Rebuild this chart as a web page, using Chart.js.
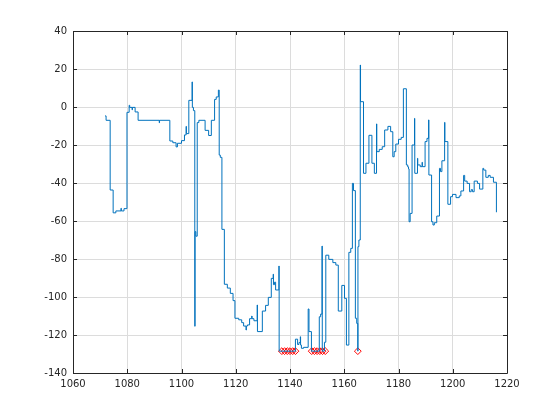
<!DOCTYPE html>
<html>
<head>
<meta charset="utf-8">
<script src="https://cdn.jsdelivr.net/npm/chart.js@4.4.1/dist/chart.umd.min.js"></script>
<style>
  html, body { margin: 0; padding: 0; background: #fff; }
  #plot { display: block; }
</style>
</head>
<body>
<canvas id="plot" width="560" height="420"></canvas>
<script>
// stairs signal, x positions and held values
const xs = [
  1071.8, 1072.2, 1073.7, 1074.8, 1075.8, 1077.7, 1077.8, 1078.8, 1079.9, 1080.7,
  1080.9, 1081.8, 1081.9, 1082.9, 1084.0, 1091.8, 1091.9, 1095.7, 1096.8, 1098.0,
  1098.5, 1100.0, 1101.1, 1101.7, 1101.8, 1102.7, 1103.9, 1104.0, 1104.4, 1104.9,
  1105.0, 1105.3, 1105.8, 1106.4, 1108.7, 1110.0, 1111.0, 1112.2, 1112.8, 1113.6,
  1113.9, 1114.3, 1114.9, 1115.8, 1116.9, 1118.0, 1119.0, 1119.7, 1121.1, 1122.2,
  1122.9, 1123.8, 1123.9, 1124.3, 1125.1, 1125.9, 1126.0, 1126.7, 1127.9, 1128.0,
  1129.8, 1131.0, 1132.0, 1133.1, 1133.8, 1133.9, 1134.3, 1134.7, 1135.9, 1136.0,
  1142.0, 1142.8, 1143.3, 1143.8, 1143.9, 1144.2, 1145.0, 1146.7, 1147.0, 1147.9,
  1150.8, 1151.3, 1151.8, 1151.9, 1152.7, 1153.2, 1154.3, 1155.8, 1156.9, 1157.8,
  1159.1, 1160.1, 1160.8, 1161.7, 1162.4, 1163.0, 1163.4, 1164.1, 1164.6, 1165.0,
  1165.05, 1165.4, 1165.9, 1166.0, 1167.1, 1168.0, 1169.1, 1170.2, 1171.1, 1171.9,
  1172.0, 1172.9, 1174.0, 1174.9, 1176.1, 1177.1, 1177.9, 1178.4, 1179.0, 1180.0,
  1181.0, 1181.8, 1182.9, 1183.4, 1183.7, 1183.9, 1184.3, 1185.0, 1185.9, 1186.0,
  1187.0, 1187.1, 1188.0, 1188.7, 1188.8, 1189.8, 1190.5, 1191.1, 1191.2, 1192.2,
  1192.7, 1193.2, 1194.1, 1195.1, 1195.5, 1196.0, 1197.0, 1197.1, 1198.2, 1199.2,
  1199.9, 1201.2, 1202.4, 1203.0, 1204.0, 1204.4, 1205.3, 1206.2, 1206.8, 1207.3,
  1207.9, 1209.1, 1209.9, 1211.1, 1211.4, 1212.2, 1213.1, 1213.8, 1215.0, 1216.1
];
const ys = [
  -4.7, -7.0, -43.7, -55.7, -54.7, -53.3, -54.7, -53.5, -2.8, 0.9,
  -0.2, -1.5, -0.2, -2.6, -7.0, -8.3, -7.0, -17.9, -18.8, -21.0,
  -19.1, -17.7, -14.7, -10.2, -14.0, 3.5, 13.2, -0.2, -1.9, -115.4,
  -65.6, -68.0, -8.2, -7.0, -12.3, -15.0, -7.0, 4.0, 5.3, 8.9,
  -25.3, -26.5, -64.4, -93.3, -95.3, -98.1, -101.9, -111.2, -112.0, -113.5,
  -115.3, -117.4, -115.3, -114.7, -111.4, -110.0, -111.4, -112.5, -104.2, -118.2,
  -107.4, -104.4, -100.2, -90.2, -88.0, -93.5, -92.2, -96.3, -83.7, -128.5,
  -122.2, -125.0, -124.0, -120.9, -125.3, -127.0, -126.5, -106.3, -118.2, -128.5,
  -110.4, -109.0, -73.2, -128.5, -123.8, -78.0, -80.2, -81.9, -83.2, -107.4,
  -93.9, -100.7, -125.3, -76.5, -74.4, -40.2, -44.0, -111.2, -113.9, -128.5,
  -73.5, -70.0, 22.1, 2.8, -34.9, -29.6, -14.9, -29.6, -34.9, -8.9,
  -23.5, -22.3, -20.9, -12.1, -10.2, -13.0, -26.2, -23.5, -19.5, -17.0,
  -16.0, 9.6, -30.5, -31.5, -32.6, -60.4, -56.0, -20.0, -6.0, -34.9,
  -27.0, -30.5, -31.4, -29.1, -31.4, -18.2, -16.5, -6.8, -35.8, -60.4,
  -62.1, -60.9, -57.4, -32.3, -34.0, -28.3, -8.1, -18.2, -51.2, -47.2,
  -46.0, -47.7, -46.8, -44.2, -36.0, -39.0, -40.2, -44.6, -43.5, -44.6,
  -39.0, -40.2, -43.2, -32.3, -33.2, -37.0, -36.0, -37.0, -39.6, -55.4
];

// red diamond markers
const markX = [1137, 1138, 1139, 1140, 1141, 1142, 1148, 1149, 1150, 1151, 1152, 1153, 1165];
const markY = [-128.5, -128.5, -128.5, -128.5, -128.5, -128.5, -128.5, -128.5, -128.5, -128.5, -128.5, -128.5, -128.5];

const xTicks = [1060, 1080, 1100, 1120, 1140, 1160, 1180, 1200, 1220];
const yTicks = [-140, -120, -100, -80, -60, -40, -20, 0, 20, 40];

const axisColor = '#262626';

// matlab style box with inward ticks
const boxPlugin = {
  id: 'box',
  afterDraw(chart) {
    const { ctx, chartArea: a, scales } = chart;
    const len = 4;
    ctx.save();
    ctx.strokeStyle = axisColor;
    ctx.lineWidth = 1;
    ctx.beginPath();
    ctx.rect(Math.round(a.left) + 0.5, Math.round(a.top) + 0.5,
      Math.round(a.right - a.left), Math.round(a.bottom - a.top));
    xTicks.forEach(v => {
      const px = Math.round(scales.x.getPixelForValue(v)) + 0.5;
      ctx.moveTo(px, a.bottom); ctx.lineTo(px, a.bottom - len);
      ctx.moveTo(px, a.top); ctx.lineTo(px, a.top + len);
    });
    yTicks.forEach(v => {
      const py = Math.round(scales.y.getPixelForValue(v)) + 0.5;
      ctx.moveTo(a.left, py); ctx.lineTo(a.left + len, py);
      ctx.moveTo(a.right, py); ctx.lineTo(a.right - len, py);
    });
    ctx.stroke();
    ctx.restore();
  }
};

const ctx = document.getElementById('plot').getContext('2d');

new Chart(ctx, {
  type: 'scatter',
  data: {
    datasets: [
      {
        data: xs.map((x, i) => ({ x: x, y: ys[i] })),
        showLine: true,
        stepped: 'before',
        borderColor: '#0072BD',
        borderWidth: 1,
        pointRadius: 0,
        fill: false
      },
      {
        data: markX.map((x, i) => ({ x: x, y: markY[i] })),
        showLine: false,
        pointStyle: 'rectRot',
        pointRadius: 3.4,
        borderColor: '#FF0000',
        backgroundColor: 'rgba(0,0,0,0)',
        borderWidth: 1
      }
    ]
  },
  options: {
    responsive: false,
    animation: false,
    devicePixelRatio: 1,
    layout: { padding: { left: 0, top: 31, right: 53, bottom: 0 } },
    plugins: {
      legend: { display: false },
      tooltip: { enabled: false }
    },
    scales: {
      x: {
        type: 'linear',
        min: 1060,
        max: 1220,
        afterFit: s => { s.height = 47; },
        afterBuildTicks: s => { s.ticks = xTicks.map(v => ({ value: v })); },
        grid: { color: '#dcdcdc', drawTicks: false },
        border: { display: false },
        ticks: {
          padding: 5,
          color: axisColor,
          font: { family: 'DejaVu Sans, sans-serif', size: 10 },
          callback: v => String(v)
        }
      },
      y: {
        type: 'linear',
        min: -140,
        max: 40,
        afterFit: s => { s.width = 73; },
        afterBuildTicks: s => { s.ticks = yTicks.map(v => ({ value: v })); },
        grid: { color: '#dcdcdc', drawTicks: false },
        border: { display: false },
        ticks: {
          padding: 6,
          color: axisColor,
          font: { family: 'DejaVu Sans, sans-serif', size: 10 },
          callback: v => String(v)
        }
      }
    }
  },
  plugins: [boxPlugin]
});
</script>
</body>
</html>
